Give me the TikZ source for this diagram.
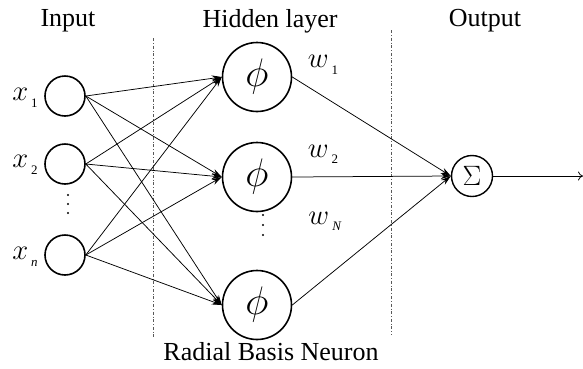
\documentclass[tikz,border=0pt]{standalone}
\usepackage{graphicx}
\usepackage{fontspec}
\setmainfont{Liberation Serif}
\usetikzlibrary{arrows.meta}
\newcommand{\varlab}[2]{\scalebox{1.15}{$#1$}\hspace{3pt}\raisebox{-0.6ex}{\fontsize{13}{13}\selectfont #2}}
\newcommand{\bigphi}{\scalebox{1.6}{$\phi$}}
\newcommand{\bigsum}{\scalebox{1.35}{$\Sigma$}}
\begin{document}
\begin{tikzpicture}[x=1pt,y=-1pt,
  title/.style={font=\fontsize{26}{28}\selectfont, inner sep=0pt},
  inneuron/.style={circle, draw, line width=1.6pt, minimum size=40pt, inner sep=0pt},
  hidneuron/.style={circle, draw, line width=1.6pt, minimum size=69pt, inner sep=0pt, font=\fontsize{24}{24}\selectfont},
  sumneuron/.style={circle, draw, line width=1.4pt, minimum size=41pt, inner sep=0pt, font=\fontsize{22}{22}\selectfont},
  lab/.style={font=\fontsize{25}{26}\selectfont, inner sep=0pt},
  wlab/.style={font=\fontsize{23}{24}\selectfont, inner sep=0pt},
  dotmark/.style={circle, fill, inner sep=0pt, minimum size=2.4pt},
  conn/.style={line width=0.75pt, -{Stealth[length=10pt,width=6pt]}},
  sep/.style={line width=0.6pt, dash dot, gray!70!black}]
\useasboundingbox (0,0) rectangle (583,368);
\fill[white] (0,0) rectangle (583,368);

% titles
\node[title] (tin) at (68,21) {Input};
\node[title] (thid) at (270,21) {Hidden layer};
\node[title] (tout) at (485,21) {Output};
\node[title] (trbn) at (271,352) {Radial Basis Neuron};

% separators
\coordinate (s1t) at (153,38);
\coordinate (s1b) at (153,337);
\coordinate (s2t) at (391,30);
\coordinate (s2b) at (391,335);
\draw[sep] (s1t) -- (s1b);
\draw[sep] (s2t) -- (s2b);

% input neurons
\node[inneuron] (x1) at (65,96) {};
\node[inneuron] (x2) at (65,164) {};
\node[inneuron] (xn) at (65,255) {};
\node[lab] (lx1) at (25,98) {\varlab{x}{1}};
\node[lab] (lx2) at (25,165) {\varlab{x}{2}};
\node[lab] (lxn) at (25,257) {\varlab{x}{\textit{n}}};
\node[dotmark] (di1) at (68,195) {};
\node[dotmark] (di2) at (68,204) {};
\node[dotmark] (di3) at (68,213) {};

% hidden neurons
\node[hidneuron] (h1) at (257,77) {\bigphi};
\node[hidneuron] (h2) at (257,177) {\bigphi};
\node[hidneuron] (h3) at (257,305) {\bigphi};
\node[dotmark] (dh1) at (263,215) {};
\node[dotmark] (dh2) at (263,225) {};
\node[dotmark] (dh3) at (263,235) {};

% output neuron
\node[sumneuron] (sum) at (472,176) {\bigsum};
\coordinate (outend) at (583,176);

% input -> hidden
\foreach \i in {x1,x2,xn}{
  \foreach \h in {h1,h2,h3}{
    \draw[conn] (\i.east) -- (\h.west);
  }
}
% hidden -> output
\draw[conn] (h1.east) -- (sum.west);
\draw[conn] (h2.east) -- (sum.west);
\draw[conn] (h3.east) -- (sum.west);
\draw[line width=0.75pt, -{To[length=5pt,width=9pt]}] (sum.east) -- (outend);

% weights
\node[wlab] (w1) at (323,65) {\varlab{w}{1}};
\node[wlab] (w2) at (323,154) {\varlab{w}{2}};
\node[wlab] (wN) at (325,221) {\varlab{w}{\textit{N}}};
\end{tikzpicture}
\end{document}
